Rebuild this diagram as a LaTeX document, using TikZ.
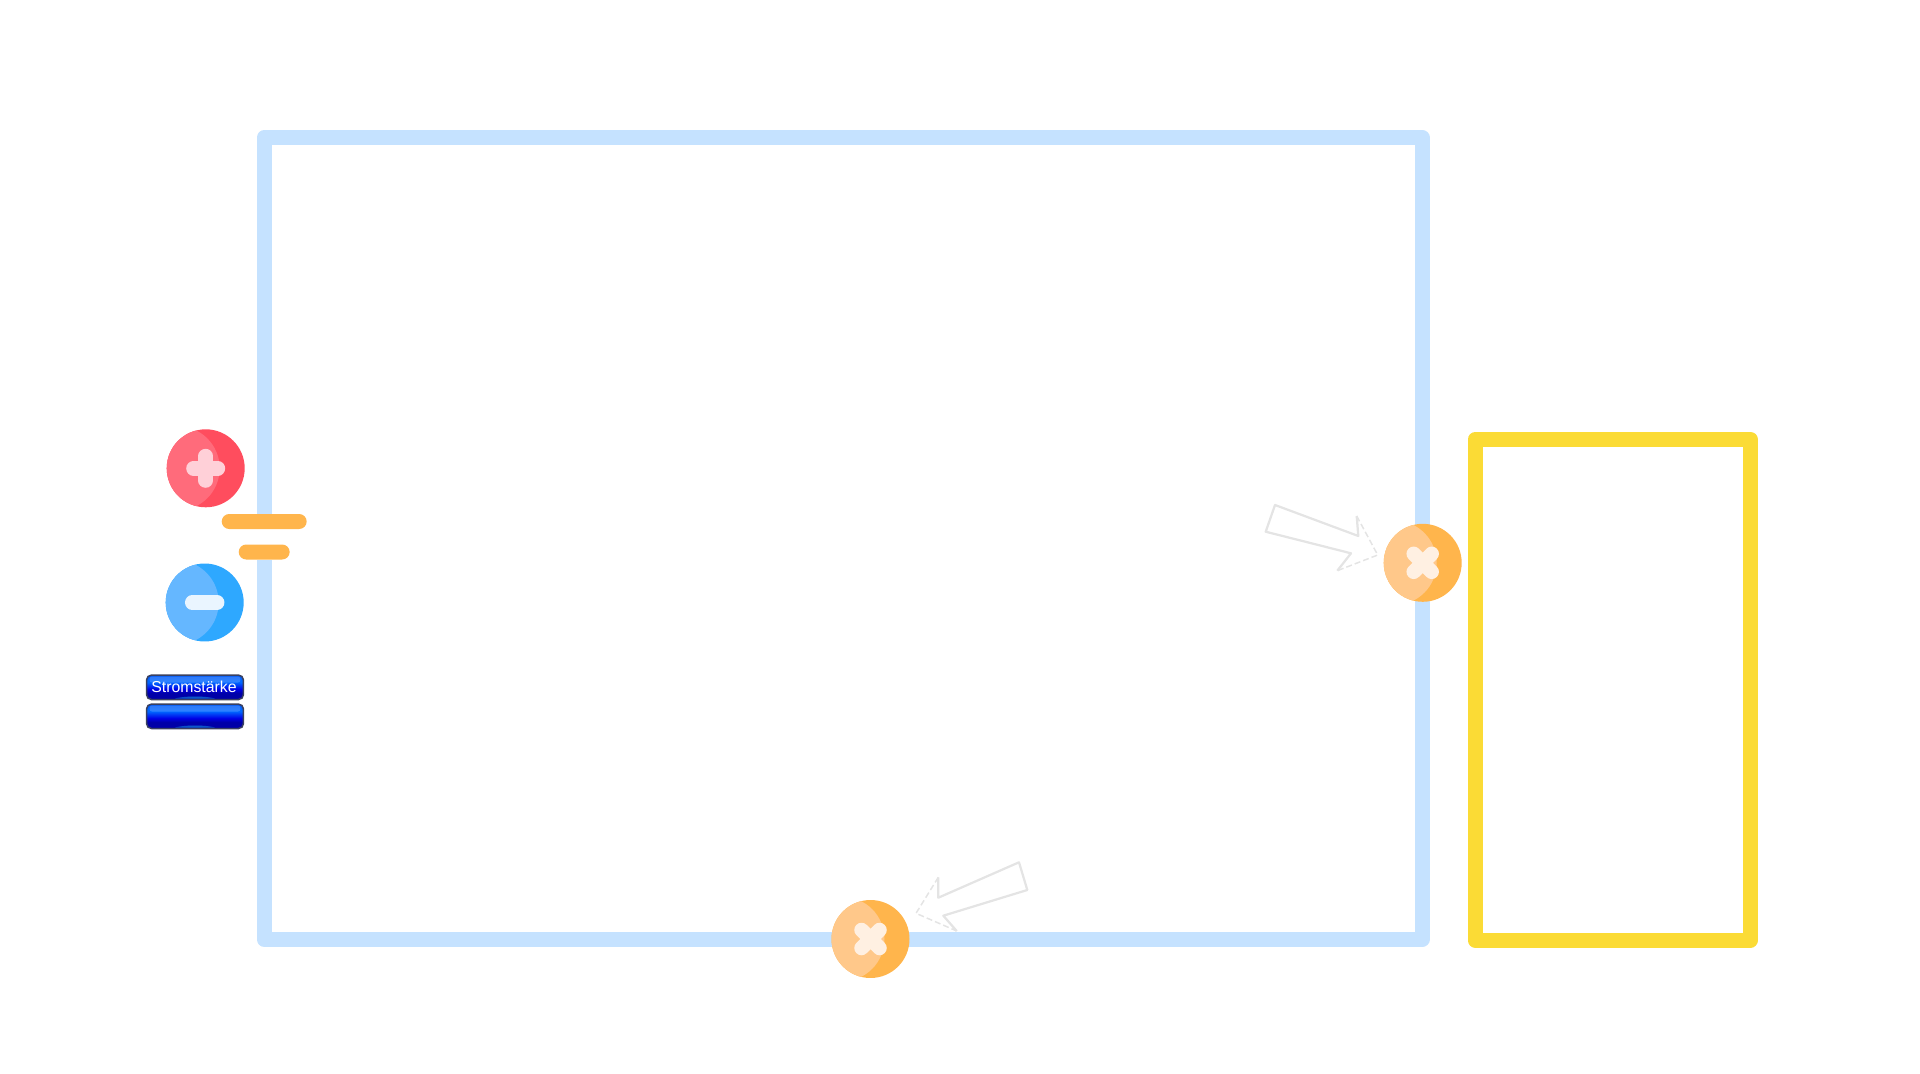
\documentclass[tikz,border=0pt]{standalone}
\usepackage{fontspec}
\setmainfont{Liberation Sans}
\usetikzlibrary{positioning}

\definecolor{wireblue}{HTML}{C5E2FF}
\definecolor{meteryellow}{HTML}{FBDB35}
\definecolor{barorange}{HTML}{FFB54C}
\definecolor{lamplight}{HTML}{FFC88A}
\definecolor{lampsign}{HTML}{FFF0E2}
\definecolor{plusdark}{HTML}{FF4D5E}
\definecolor{pluslight}{HTML}{FF6B7B}
\definecolor{plussign}{HTML}{FFD0D8}
\definecolor{minusdark}{HTML}{2EA8FF}
\definecolor{minuslight}{HTML}{65B7FF}
\definecolor{minussign}{HTML}{EAF5FF}
\definecolor{pointergray}{HTML}{E4E4E4}
\definecolor{buttonrim}{HTML}{3A4060}
\definecolor{buttonlow}{HTML}{0000A8}
\definecolor{buttonglow}{HTML}{20D8FF}

\pgfdeclareverticalshading{buttonface}{100bp}{
    color(0bp)=(buttonlow); color(38bp)=(buttonlow); color(46bp)=(blue!90!black);
    color(60bp)=(blue!60!cyan); color(64bp)=(blue!60!cyan); color(100bp)=(blue!75!cyan!85!black)}

\tikzset{
    wire/.style={line width=0.3cm, line join=round, color=#1},
    badge/.style n args={2}{circle, minimum size=1.56cm, inner sep=0pt, fill=#1,
        path picture={\fill[#2] ([xshift=-0.566cm]path picture bounding box.center) circle (0.846cm);}},
    sign/.style={line width=0.29cm, line cap=round, color=#1},
    bar/.style={fill=barorange, rounded corners=0.15cm, inner sep=0pt, minimum height=0.3cm},
    button/.style={draw=buttonrim, line width=0.03cm, rounded corners=0.1cm, inner sep=0pt,
        minimum width=1.94cm, minimum height=0.49cm, text=white, font=\fontsize{9}{9}\selectfont,
        shading=buttonface,
        path picture={
            \shade[inner color=buttonglow, outer color=buttonlow, shading=radial]
                (path picture bounding box.south) ellipse (0.42cm and 0.06cm);
            \fill[white, opacity=0.18, rounded corners=0.05cm]
                ([shift={(0.06cm,-0.03cm)}]path picture bounding box.north west) rectangle
                ([shift={(-0.06cm,-0.15cm)}]path picture bounding box.north east);
        }},
    pointer/.style={color=pointergray, line width=0.045cm, line join=round},
    pointertip/.style={color=pointergray, line width=0.03cm, dashed, dash pattern=on 0.12cm off 0.06cm}
}

\begin{document}
\begin{tikzpicture}[x=0.02cm, y=-0.02cm]
\useasboundingbox (0,0) rectangle (1920,1074);

% Battery
\node[bar, minimum width=1.7cm] (longbar) at (264.2,521.5) {};
\node[bar, minimum width=1.02cm] (shortbar) at (264.2,552) {};

% Circuit
\draw[wire=wireblue] (shortbar.south) -- (264.2,939.5) -- (1422,939.5) -- (1422,137.5)
    -- (264.2,137.5) -- (longbar.north);
\draw[wire=meteryellow] (1475,439.5) rectangle (1750.5,940);

% Poles
\node[badge={plusdark}{pluslight}] (pluspole) at (205.7,468.3) {};
\draw[sign=plussign] ([xshift=-0.245cm]pluspole.center) -- ([xshift=0.245cm]pluspole.center);
\draw[sign=plussign] ([yshift=-0.245cm]pluspole.center) -- ([yshift=0.245cm]pluspole.center);
\node[badge={minusdark}{minuslight}] (minuspole) at (204.7,602.5) {};
\draw[sign=minussign] ([xshift=-0.25cm]minuspole.center) -- ([xshift=0.25cm]minuspole.center);

% Lamps
\node[badge={barorange}{lamplight}] (lampright) at (1422.7,562.8) {};
\draw[sign=lampsign] ([shift={(-0.18cm,-0.18cm)}]lampright.center) -- ([shift={(0.18cm,0.18cm)}]lampright.center);
\draw[sign=lampsign] ([shift={(-0.18cm,0.18cm)}]lampright.center) -- ([shift={(0.18cm,-0.18cm)}]lampright.center);
\node[badge={barorange}{lamplight}] (lampbottom) at (870.5,939) {};
\draw[sign=lampsign] ([shift={(-0.18cm,-0.18cm)}]lampbottom.center) -- ([shift={(0.18cm,0.18cm)}]lampbottom.center);
\draw[sign=lampsign] ([shift={(-0.18cm,0.18cm)}]lampbottom.center) -- ([shift={(0.18cm,-0.18cm)}]lampbottom.center);

% Display
\node[button] (currentlabel) at (195,687.3) {Stromstärke\kern0.04cm};
\node[button, below=0.06cm of currentlabel] (currentvalue) {};

% Pointers
\draw[pointer] (1356.7,516) -- (1358.3,536) -- (1275,505) -- (1265.7,531.7) -- (1351,553.3) -- (1337.3,570.7);
\draw[pointertip] (1356.7,516) -- (1377.7,555) -- (1337.3,570.7);
\draw[pointer] (938.3,877.3) -- (938.3,897.7) -- (1019,862.3) -- (1027.3,890) -- (943.3,915.7) -- (956.7,931);
\draw[pointertip] (938.3,877.3) -- (916,913.3) -- (956.7,931);

\end{tikzpicture}
\end{document}
